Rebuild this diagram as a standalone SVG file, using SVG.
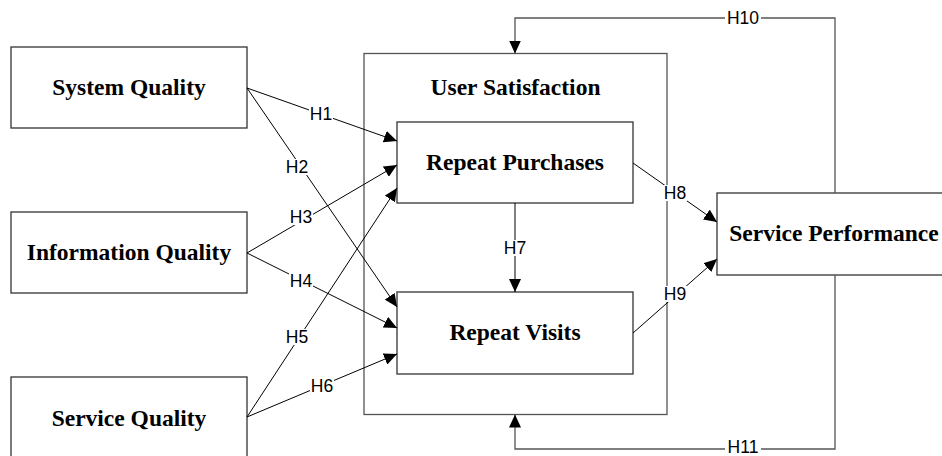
<svg xmlns="http://www.w3.org/2000/svg" width="942" height="456" viewBox="0 0 942 456">
<style>
.box{fill:#fff;stroke:#333;stroke-width:1.3}
.outer{fill:none;stroke:#555;stroke-width:1.3}
.node{font-family:"Liberation Serif","Times New Roman",serif;font-weight:bold;font-size:23.5px;fill:#000;text-anchor:middle}
.ln{fill:none;stroke:#000;stroke-width:1}
.fb{fill:none;stroke:#555;stroke-width:1.3}
.lbl{font-family:"Liberation Sans",Arial,sans-serif;font-size:17.5px;fill:#000;text-anchor:middle;dominant-baseline:central}
.bg{fill:#fff}
</style>
<defs>
<marker id="arr" markerUnits="userSpaceOnUse" markerWidth="14" markerHeight="12" refX="13" refY="6" orient="auto">
<path d="M0,0 L13,6 L0,12 Z" fill="#000"/>
</marker>
</defs>
<g id="user-satisfaction">
<rect class="outer" x="364" y="53.5" width="303" height="361"/>
<text class="node" x="515.5" y="95">User Satisfaction</text>
</g>
<g id="system-quality">
<rect class="box" x="11" y="47" width="236" height="81"/>
<text class="node" x="129" y="95">System Quality</text>
</g>
<g id="information-quality">
<rect class="box" x="11" y="212" width="236" height="81"/>
<text class="node" x="129" y="260">Information Quality</text>
</g>
<g id="service-quality">
<rect class="box" x="11" y="377" width="236" height="81"/>
<text class="node" x="129" y="425.5">Service Quality</text>
</g>
<g id="repeat-purchases">
<rect class="box" x="397" y="122" width="236" height="81"/>
<text class="node" x="515" y="170">Repeat Purchases</text>
</g>
<g id="repeat-visits">
<rect class="box" x="397" y="292" width="236" height="82"/>
<text class="node" x="515" y="340">Repeat Visits</text>
</g>
<g id="service-performance">
<rect class="box" x="717" y="193" width="236" height="82"/>
<text class="node" x="834" y="241">Service Performance</text>
</g>
<g id="connectors">
<line class="ln" x1="247" y1="88" x2="397" y2="141" marker-end="url(#arr)"/>
<line class="ln" x1="247" y1="88" x2="397" y2="307" marker-end="url(#arr)"/>
<line class="ln" x1="247" y1="253" x2="397" y2="165" marker-end="url(#arr)"/>
<line class="ln" x1="247" y1="253" x2="397" y2="328" marker-end="url(#arr)"/>
<line class="ln" x1="247" y1="417" x2="397" y2="188" marker-end="url(#arr)"/>
<line class="ln" x1="247" y1="417" x2="397" y2="354" marker-end="url(#arr)"/>
<line class="ln" x1="515" y1="203" x2="515" y2="292" marker-end="url(#arr)"/>
<line class="ln" x1="633" y1="163" x2="717" y2="222" marker-end="url(#arr)"/>
<line class="ln" x1="633" y1="333" x2="717" y2="259" marker-end="url(#arr)"/>
<path class="fb" d="M835,193 V18 H515 V53.5" marker-end="url(#arr)"/>
<path class="fb" d="M835,275 V449 H515 V414.5" marker-end="url(#arr)"/>
<g id="labels">
<rect class="bg" x="309" y="106" width="24" height="16"/><text class="lbl" x="321" y="114">H1</text>
<rect class="bg" x="285" y="159" width="24" height="16"/><text class="lbl" x="297" y="167">H2</text>
<rect class="bg" x="289" y="209" width="24" height="16"/><text class="lbl" x="301" y="217">H3</text>
<rect class="bg" x="289" y="273" width="24" height="16"/><text class="lbl" x="301" y="281">H4</text>
<rect class="bg" x="285" y="329" width="24" height="16"/><text class="lbl" x="297" y="337">H5</text>
<rect class="bg" x="310" y="378" width="24" height="16"/><text class="lbl" x="322" y="386">H6</text>
<rect class="bg" x="503" y="240" width="24" height="16"/><text class="lbl" x="515" y="248">H7</text>
<rect class="bg" x="663" y="185" width="24" height="16"/><text class="lbl" x="675" y="193">H8</text>
<rect class="bg" x="663" y="286" width="24" height="16"/><text class="lbl" x="675" y="294">H9</text>
<rect class="bg" x="725" y="10" width="36" height="16"/><text class="lbl" x="743" y="18">H10</text>
<rect class="bg" x="725" y="440" width="36" height="16"/><text class="lbl" x="743" y="446.5">H11</text>
</g>
</g>
</svg>
